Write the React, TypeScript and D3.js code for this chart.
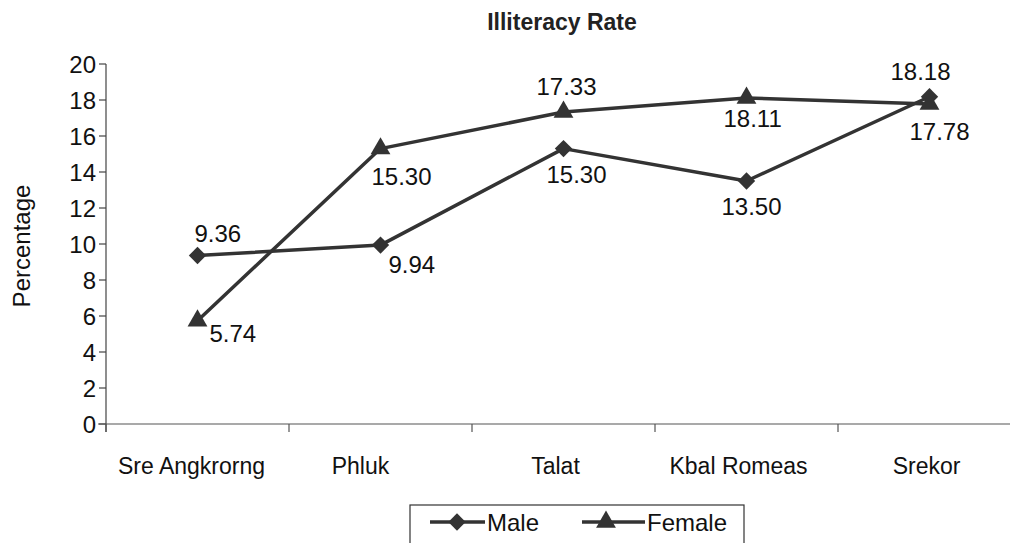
import React from "react";
import * as d3 from "d3";

const categories = ["Sre Angkrorng", "Phluk", "Talat", "Kbal Romeas", "Srekor"];
const maleValues = [9.36, 9.94, 15.3, 13.5, 18.18];
const femaleValues = [5.74, 15.3, 17.33, 18.11, 17.78];
const yTicks = [0, 2, 4, 6, 8, 10, 12, 14, 16, 18, 20];
const title = "Illiteracy Rate";
const yTitle = "Percentage";
const seriesNames = ["Male", "Female"];

// label placement offsets (dx, dy) relative to the marker
const maleLabelOffsets: [number, number][] = [[-3, -14], [8, 28], [-17, 34], [-25, 34], [-39, -17]];
const femaleLabelOffsets: [number, number][] = [[12, 21], [-9, 36], [-27, -17], [-23, 29], [-20, 36]];
const catLabelDx = [-6, -20, -8, -8, -3];

const W = 1010;
const H = 543;
const INK = "#333";
const FONT = "'Liberation Sans', Arial, Helvetica, sans-serif";

export default function App() {
  const x = d3.scaleBand<string>().domain(categories).range([106, 1021]).padding(0);
  const y = d3.scaleLinear().domain([0, 20]).range([424, 64]);
  const cx = (c: string) => (x(c) as number) + x.bandwidth() / 2;

  const line = d3
    .line<number>()
    .x((_, i) => cx(categories[i]))
    .y((d) => y(d));

  const diamond = d3.symbol().type(d3.symbolSquare).size(150)() as string;
  const triangle = d3.symbol().type(d3.symbolTriangle).size(170)() as string;

  const fmt = d3.format(".2f");

  const labels = (vals: number[], offs: [number, number][]) =>
    vals.map((v, i) => (
      <text
        key={i}
        x={cx(categories[i]) + offs[i][0]}
        y={y(v) + offs[i][1]}
        fontSize={24}
        fill="#111"
        fontFamily={FONT}
      >
        {fmt(v)}
      </text>
    ));

  const xAxisY = y(0);
  const tickXs = categories.map((c) => x(c) as number).concat([x.range()[1]]);

  return (
    <svg
      width={W}
      height={H}
      style={{ position: "absolute", left: 0, top: 0, background: "#fff" }}
    >
      <rect x={0} y={0} width={W} height={H} fill="#fff" />
      {/* title */}
      <text x={562} y={30} textAnchor="middle" fontSize={23} fontWeight="bold" fontFamily={FONT} fill="#222">
        {title}
      </text>
      {/* y axis */}
      <line x1={106} x2={106} y1={y(20)} y2={y(0) + 8} stroke="#444" strokeWidth={1.2} />
      {yTicks.map((t) => (
        <g key={t}>
          <line x1={99} x2={106} y1={y(t)} y2={y(t)} stroke="#444" strokeWidth={1.2} />
          <text x={96} y={y(t)} dy="0.36em" textAnchor="end" fontSize={24} fontFamily={FONT} fill="#111">
            {t}
          </text>
        </g>
      ))}
      <text
        transform={`translate(30,${(y(0) + y(20)) / 2 + 2}) rotate(-90)`}
        textAnchor="middle"
        fontSize={24}
        fontFamily={FONT}
        fill="#111"
      >
        {yTitle}
      </text>
      {/* x axis */}
      <line x1={98} x2={W} y1={xAxisY} y2={xAxisY} stroke="#555" strokeWidth={1.2} />
      {tickXs.map((tx, i) => (
        <line key={i} x1={tx} x2={tx} y1={xAxisY} y2={xAxisY + 8} stroke="#555" strokeWidth={1.2} />
      ))}
      {categories.map((c, i) => (
        <text key={c} x={cx(c) + catLabelDx[i]} y={474} textAnchor="middle" fontSize={23} fontFamily={FONT} fill="#111">
          {c}
        </text>
      ))}
      {/* lines */}
      <path d={line(maleValues) as string} fill="none" stroke={INK} strokeWidth={3.5} strokeLinejoin="round" />
      <path d={line(femaleValues) as string} fill="none" stroke={INK} strokeWidth={3.5} strokeLinejoin="round" />
      {maleValues.map((v, i) => (
        <path key={"m" + i} d={diamond} transform={`translate(${cx(categories[i])},${y(v)}) rotate(45)`} fill={INK} />
      ))}
      {femaleValues.map((v, i) => (
        <path key={"f" + i} d={triangle} transform={`translate(${cx(categories[i])},${y(v)})`} fill={INK} />
      ))}
      {labels(maleValues, maleLabelOffsets)}
      {labels(femaleValues, femaleLabelOffsets)}
      {/* legend */}
      <rect x={410} y={505} width={334} height={50} fill="#fff" stroke="#333" strokeWidth={1.2} />
      <line x1={430} x2={485} y1={522} y2={522} stroke={INK} strokeWidth={3.5} />
      <path d={diamond} transform="translate(457,522) rotate(45)" fill={INK} />
      <text x={487} y={531} fontSize={24} fontFamily={FONT} fill="#111">
        {seriesNames[0]}
      </text>
      <line x1={582} x2={645} y1={522} y2={522} stroke={INK} strokeWidth={3.5} />
      <path d={triangle} transform="translate(606,522)" fill={INK} />
      <text x={647} y={531} fontSize={24} fontFamily={FONT} fill="#111">
        {seriesNames[1]}
      </text>
    </svg>
  );
}
